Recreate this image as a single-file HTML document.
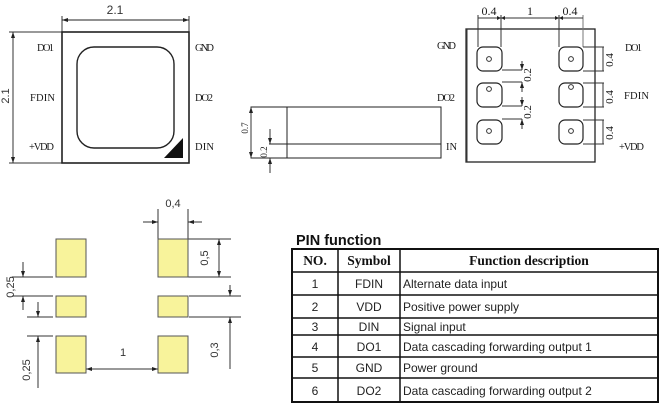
<!DOCTYPE html>
<html><head><meta charset="utf-8"><style>
html,body{margin:0;padding:0;background:#fff;}
svg{display:block;}
.s{font-family:"Liberation Serif",serif;fill:#1a1a1a;}
.a{font-family:"Liberation Sans",sans-serif;fill:#333;}
</style></head><body>
<svg width="670" height="410" viewBox="0 0 670 410" xmlns="http://www.w3.org/2000/svg">
<defs>
<marker id="ar" viewBox="0 0 6 4" refX="6" refY="2" markerWidth="6" markerHeight="4" markerUnits="userSpaceOnUse" orient="auto-start-reverse">
<path d="M0,0 L6,2 L0,4 z" fill="#222"/></marker>
</defs>
<g stroke="#333" fill="none" stroke-width="1">
<!-- Top view -->
<line x1="62" y1="16" x2="62" y2="32"/><line x1="189" y1="16" x2="189" y2="32"/>
<line x1="62" y1="20" x2="189" y2="20" marker-start="url(#ar)" marker-end="url(#ar)" stroke="#222"/>
<line x1="9" y1="32" x2="62" y2="32"/><line x1="9" y1="163" x2="62" y2="163"/>
<line x1="13" y1="32" x2="13" y2="163" marker-start="url(#ar)" marker-end="url(#ar)"/>
<rect x="62" y="32" width="127" height="131" stroke="#222" stroke-width="1.6"/>
<rect x="77" y="47" width="97" height="101" rx="17" ry="17" stroke="#222" stroke-width="1.4"/>
</g>
<polygon points="164,158 183,158 183,138" fill="#111"/>
<text class="a" x="115" y="14" font-size="12" text-anchor="middle">2.1</text>
<text class="a" font-size="11" text-anchor="middle" transform="translate(9,96) rotate(-90)">2.1</text>
<text class="s" x="37" y="51" font-size="10.5" textLength="17">DO1</text>
<text class="s" x="30" y="101" font-size="10.5" textLength="25">FDIN</text>
<text class="s" x="29" y="150" font-size="10.5" textLength="25">+VDD</text>
<text class="s" x="195" y="51" font-size="10.5" textLength="19">GND</text>
<text class="s" x="195" y="101" font-size="10.5" textLength="18">DO2</text>
<text class="s" x="195" y="150" font-size="10.5" textLength="19">DIN</text>

<!-- Side view -->
<g stroke="#333" fill="none" stroke-width="1">
<rect x="251" y="107" width="190" height="51" stroke="#222"/>
<line x1="287" y1="107" x2="287" y2="158" stroke="#222"/>
<line x1="269" y1="144" x2="441" y2="144" stroke="#222"/>
<line x1="251" y1="107" x2="251" y2="158" marker-start="url(#ar)" marker-end="url(#ar)"/>
<line x1="270" y1="129" x2="270" y2="144" marker-end="url(#ar)"/>
<line x1="270" y1="173" x2="270" y2="158" marker-end="url(#ar)"/>
</g>
<text class="s" font-size="9" text-anchor="middle" transform="translate(248,128) rotate(-90)">0.7</text>
<text class="s" font-size="9" text-anchor="middle" transform="translate(267,152) rotate(-90)">0.2</text>
<text class="s" x="446" y="150" font-size="10.5">IN</text>

<!-- Bottom view -->
<g stroke="#333" fill="none" stroke-width="1">
<rect x="466" y="29" width="129" height="133" stroke="#222" stroke-width="1.3"/>
<line x1="466.5" y1="29" x2="466.5" y2="162" stroke-width="2"/>
<line x1="478" y1="15" x2="478" y2="47"/><line x1="501" y1="15" x2="501" y2="47"/>
<line x1="559" y1="15" x2="559" y2="47"/><line x1="583" y1="15" x2="583" y2="47" stroke="#777"/>
<line x1="478" y1="18" x2="583" y2="18"/>
<path d="M497,16 L501,18 L497,20 z M505,16 L501,18 L505,20 z M555,16 L559,18 L555,20 z M563,16 L559,18 L563,20 z" fill="#222" stroke="none"/>
<rect x="477" y="47" width="25" height="24" rx="6" stroke="#222" stroke-width="1.2"/>
<rect x="477" y="83" width="25" height="24" rx="6" stroke="#222" stroke-width="1.2"/>
<rect x="477" y="120" width="25" height="24" rx="6" stroke="#222" stroke-width="1.2"/>
<rect x="559" y="47" width="24" height="24" rx="6" stroke="#222" stroke-width="1.2"/>
<rect x="559" y="83" width="24" height="24" rx="6" stroke="#222" stroke-width="1.2"/>
<rect x="559" y="120" width="24" height="24" rx="6" stroke="#222" stroke-width="1.2"/>
<circle cx="489" cy="59" r="2.4"/><circle cx="489" cy="89" r="2.4"/><circle cx="489" cy="131" r="2.4"/>
<circle cx="571" cy="59" r="2.4"/><circle cx="571" cy="87" r="2.4"/><circle cx="571" cy="131" r="2.4"/>
<line x1="502" y1="70" x2="522" y2="70"/><line x1="502" y1="82" x2="522" y2="82"/>
<line x1="502" y1="106" x2="522" y2="106"/><line x1="502" y1="119" x2="522" y2="119"/>
<line x1="522" y1="61" x2="522" y2="70" marker-end="url(#ar)"/>
<line x1="522" y1="92" x2="522" y2="82" marker-end="url(#ar)"/>
<line x1="522" y1="97" x2="522" y2="106" marker-end="url(#ar)"/>
<line x1="522" y1="129" x2="522" y2="119" marker-end="url(#ar)"/>
<line x1="583" y1="47" x2="604" y2="47"/><line x1="583" y1="71" x2="604" y2="71"/>
<line x1="583" y1="83" x2="604" y2="83"/><line x1="583" y1="107" x2="604" y2="107"/>
<line x1="583" y1="120" x2="604" y2="120"/><line x1="583" y1="144" x2="604" y2="144"/>
<line x1="603" y1="47" x2="603" y2="71"/><line x1="603" y1="83" x2="603" y2="107"/><line x1="603" y1="120" x2="603" y2="144"/>
</g>
<text class="s" x="489" y="15" font-size="12" text-anchor="middle">0.4</text>
<text class="s" x="530" y="15" font-size="12" text-anchor="middle">1</text>
<text class="s" x="570" y="15" font-size="12" text-anchor="middle">0.4</text>
<text class="s" font-size="11" text-anchor="middle" transform="translate(531,75) rotate(-90)">0.2</text>
<text class="s" font-size="11" text-anchor="middle" transform="translate(531,112) rotate(-90)">0.2</text>
<text class="s" font-size="11" text-anchor="middle" transform="translate(613,60) rotate(-90)">0.4</text>
<text class="s" font-size="11" text-anchor="middle" transform="translate(613,97) rotate(-90)">0.4</text>
<text class="s" font-size="11" text-anchor="middle" transform="translate(613,133) rotate(-90)">0.4</text>
<text class="s" x="437" y="49" font-size="10.5" textLength="19">GND</text>
<text class="s" x="437" y="101" font-size="10.5" textLength="18">DO2</text>
<text class="s" x="625" y="51" font-size="10.5" textLength="17">DO1</text>
<text class="s" x="624" y="99" font-size="10.5" textLength="25">FDIN</text>
<text class="s" x="619" y="150" font-size="10.5" textLength="25">+VDD</text>

<!-- Footprint -->
<g stroke="#333" fill="none" stroke-width="1">
<line x1="158" y1="209" x2="158" y2="239"/><line x1="188" y1="209" x2="188" y2="239"/>
<line x1="143" y1="222" x2="158" y2="222" marker-end="url(#ar)"/>
<line x1="202" y1="222" x2="188" y2="222" marker-end="url(#ar)"/>
<line x1="188" y1="239" x2="231" y2="239"/><line x1="188" y1="277" x2="231" y2="277"/>
<line x1="219" y1="239" x2="219" y2="277" marker-start="url(#ar)" marker-end="url(#ar)"/>
<line x1="189" y1="296" x2="241" y2="296"/><line x1="189" y1="317" x2="241" y2="317"/>
<line x1="230" y1="285" x2="230" y2="296" marker-end="url(#ar)"/>
<line x1="230" y1="369" x2="230" y2="317" marker-end="url(#ar)"/>
<line x1="12" y1="277" x2="53" y2="277"/><line x1="12" y1="296" x2="53" y2="296"/>
<line x1="23" y1="262" x2="23" y2="277" marker-end="url(#ar)"/>
<line x1="23" y1="310" x2="23" y2="296" marker-end="url(#ar)"/>
<line x1="27" y1="317" x2="53" y2="317"/><line x1="27" y1="336" x2="53" y2="336"/>
<line x1="38" y1="302" x2="38" y2="317" marker-end="url(#ar)"/>
<line x1="38" y1="388" x2="38" y2="336" marker-end="url(#ar)"/>
<line x1="86" y1="369" x2="158" y2="369" marker-start="url(#ar)" marker-end="url(#ar)"/>
</g>
<g fill="#f8f39b" stroke="#555" stroke-width="1">
<rect x="56" y="239" width="30" height="38"/>
<rect x="56" y="296" width="30" height="21"/>
<rect x="56" y="336" width="30" height="37"/>
<rect x="158" y="239" width="30" height="38"/>
<rect x="158" y="296" width="30" height="21"/>
<rect x="158" y="336" width="30" height="37"/>
</g>
<text class="a" x="173" y="207" font-size="11" text-anchor="middle">0,4</text>
<text class="a" font-size="11" text-anchor="middle" transform="translate(208,258) rotate(-90)">0,5</text>
<text class="a" font-size="11" text-anchor="middle" transform="translate(218,350) rotate(-90)">0,3</text>
<text class="a" font-size="11" text-anchor="middle" transform="translate(14,287) rotate(-90)">0,25</text>
<text class="a" font-size="11" text-anchor="middle" transform="translate(30,370) rotate(-90)">0,25</text>
<text class="a" x="123" y="356" font-size="11" text-anchor="middle">1</text>

<!-- Table -->
<text x="296" y="245" font-family="Liberation Sans, sans-serif" font-weight="bold" font-size="14.5" fill="#111">PIN function</text>
<g stroke="#111" fill="none">
<rect x="292" y="249" width="366" height="153" stroke-width="2"/>
<line x1="292" y1="272" x2="658" y2="272" stroke-width="1.5"/>
<line x1="292" y1="295" x2="658" y2="295" stroke-width="1.5"/>
<line x1="292" y1="318" x2="658" y2="318" stroke-width="1.5"/>
<line x1="292" y1="335" x2="658" y2="335" stroke-width="1.5"/>
<line x1="292" y1="357" x2="658" y2="357" stroke-width="1.5"/>
<line x1="292" y1="378" x2="658" y2="378" stroke-width="1.5"/>
<line x1="338" y1="249" x2="338" y2="402" stroke-width="1.5"/>
<line x1="400" y1="249" x2="400" y2="402" stroke-width="1.5"/>
</g>
<g font-family="Liberation Serif, serif" font-weight="bold" font-size="13.5" fill="#111" text-anchor="middle">
<text x="315" y="265">NO.</text>
<text x="369" y="265">Symbol</text>
<text x="529" y="265">Function description</text>
</g>
<g font-family="Liberation Sans, sans-serif" font-size="12" fill="#222">
<text x="315" y="288" text-anchor="middle">1</text>
<text x="369" y="288" text-anchor="middle">FDIN</text>
<text x="403" y="288">Alternate data input</text>
<text x="315" y="311" text-anchor="middle">2</text>
<text x="369" y="311" text-anchor="middle">VDD</text>
<text x="403" y="311">Positive power supply</text>
<text x="315" y="331" text-anchor="middle">3</text>
<text x="369" y="331" text-anchor="middle">DIN</text>
<text x="403" y="331">Signal input</text>
<text x="315" y="351" text-anchor="middle">4</text>
<text x="369" y="351" text-anchor="middle">DO1</text>
<text x="403" y="351">Data cascading forwarding output 1</text>
<text x="315" y="372" text-anchor="middle">5</text>
<text x="369" y="372" text-anchor="middle">GND</text>
<text x="403" y="372">Power ground</text>
<text x="315" y="395" text-anchor="middle">6</text>
<text x="369" y="395" text-anchor="middle">DO2</text>
<text x="403" y="395">Data cascading forwarding output 2</text>
</g>
</svg>
</body></html>
